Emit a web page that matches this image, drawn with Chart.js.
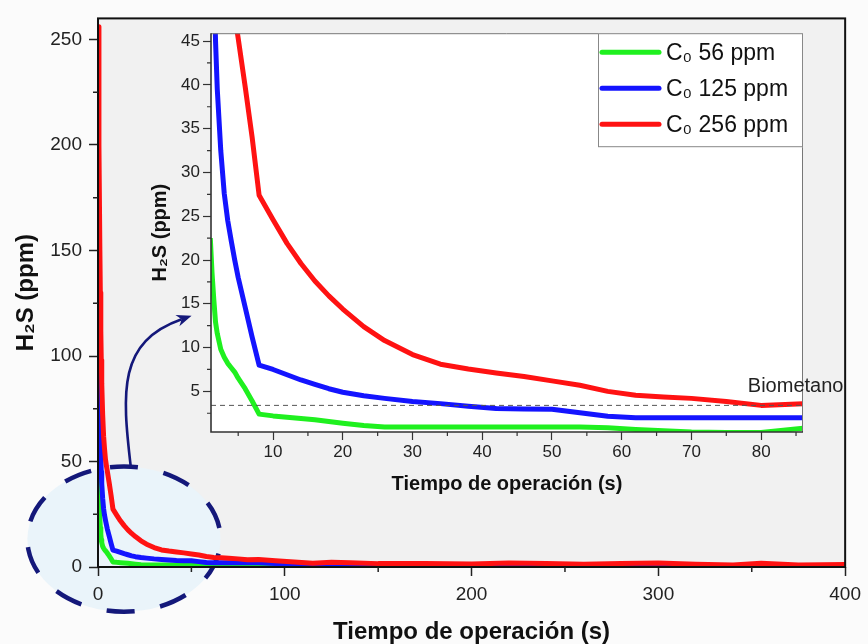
<!DOCTYPE html>
<html><head><meta charset="utf-8">
<script src="https://cdn.jsdelivr.net/npm/chart.js@4/dist/chart.umd.min.js"></script>
<style>
html,body{margin:0;padding:0;background:#fbfbfb;}
#wrap{position:relative;width:868px;height:644px;overflow:hidden;}
#main{position:absolute;left:0;top:0;}
#inset{position:absolute;left:150px;top:20px;}
</style></head><body>
<div id="wrap"><canvas id="main" width="868" height="644"></canvas><canvas id="inset" width="710" height="480"></canvas></div>
<script>
// ---- datos ----
const tiempo = [0,0.5,1,1.25,1.5,1.75,2,2.5,3,3.5,4,4.5,5,6,7,8,10,12,14,16,18,20,23,26,30,34,38,42,46,50,54,58,62,66,70,75,80,86,95,105,115,125,135,150,175,200,220,240,260,280,300,320,340,355,375,400];
const c56  = [56,36,22.5,18.5,15.5,12.9,11.6,9.8,8.9,8.2,7.7,7.2,6.5,5.3,3.9,2.4,2.2,2.05,1.9,1.75,1.55,1.35,1.1,0.93,0.93,0.93,0.93,0.93,0.93,0.93,0.93,0.85,0.65,0.5,0.36,0.3,0.3,0.8,0.5,0.3,0.3,0.3,0.3,0.3,0.3,0.3,0.3,0.3,0.3,0.3,0.3,0.3,0.3,0.3,0.3,0.3];
const c125 = [125,100,76,64,54,45,39.5,32.5,27.6,24.5,22.2,20,18,14.6,11.2,8.0,7.5,6.9,6.3,5.8,5.3,4.9,4.5,4.2,3.85,3.6,3.3,3.05,3.0,2.95,2.55,2.15,2.0,2.0,2.0,2.0,2.0,2.0,1.6,1.2,0.9,0.8,0.8,0.8,0.7,0.7,0.8,0.7,0.7,0.8,0.7,0.7,0.7,0.7,0.7,0.7];
const c256 = [256,200,150,130,112,98,87,72,62,56,51,48,45.3,39.8,34.0,27.4,24.6,21.9,19.6,17.6,15.9,14.4,12.4,10.8,9.2,8.1,7.55,7.1,6.7,6.2,5.7,5.0,4.55,4.35,4.2,3.85,3.4,3.6,3.0,2.4,1.8,2.3,2.0,1.6,1.7,1.4,1.9,1.6,1.3,1.6,1.9,1.3,1.0,1.8,1.0,1.2];
const etiquetas = ['C\u2080 56 ppm','C\u2080 125 ppm','C\u2080 256 ppm'];
const biometano = 3.4;
const ticksXPrincipal = [0,100,200,300,400];
const menoresXPrincipal = [50,150,250,350];
const ticksYPrincipal = [0,50,100,150,200,250];
const menoresYPrincipal = [25,75,125,175,225];
const ticksXInserto = [10,20,30,40,50,60,70,80];
const menoresXInserto = [5,15,25,35,45,55,65,75,85];
const ticksYInserto = [5,10,15,20,25,30,35,40,45];
const menoresYInserto = [2.5,7.5,12.5,17.5,22.5,27.5,32.5,37.5,42.5];

// ---- anotaciones (en unidades de datos) ----
const elipse = { t: 13.9, ppm: 13.2, radioT: 51.7, radioPpm: 34.4 };
const flecha = [[17.6,47.1],[12.8,83.3],[10.7,106.9],[50.1,119.1]];
const textoBiometano = { texto: 'Biometano', t: 91.8, ppm: 5.6 };

const fuente = "'Liberation Sans', Arial, Helvetica, sans-serif";
const colores = ['#1ff01f', '#1414ff', '#ff1212'];
const series = [c56, c125, c256];

function conjuntos(ancho, recorte) {
  return series.map((v, k) => ({
    label: etiquetas[k],
    data: tiempo.map((t, i) => ({x: t, y: v[i]})),
    borderColor: colores[k], backgroundColor: colores[k],
    borderWidth: ancho, pointRadius: 0, fill: false, tension: 0,
    borderJoinStyle: 'round', order: 3 - k,
    clip: recorte, enLeyenda: true
  }));
}

function ticksFijos(arr) { return s => { s.ticks = arr.map(v => ({value: v})); }; }

const menoresPlugin = {
  id: 'menores',
  afterDraw(chart, args, o) {
    const {ctx, chartArea: a, scales} = chart;
    ctx.save();
    ctx.strokeStyle = o.color; ctx.lineWidth = o.ancho;
    ctx.beginPath();
    o.x.forEach(v => { const p = scales.x.getPixelForValue(v); ctx.moveTo(p, a.bottom); ctx.lineTo(p, a.bottom + o.largo); });
    o.y.forEach(v => { const p = scales.y.getPixelForValue(v); ctx.moveTo(a.left, p); ctx.lineTo(a.left - o.largo, p); });
    ctx.stroke();
    ctx.restore();
  }
};

const principalPlugin = {
  id: 'principal',
  beforeDraw(chart) {
    const {ctx, chartArea: a, scales: {x, y}} = chart;
    ctx.save();
    ctx.fillStyle = '#f1f1f1';
    ctx.fillRect(a.left, a.top, a.width, a.height);
    const cx = x.getPixelForValue(elipse.t), cy = y.getPixelForValue(elipse.ppm);
    const rx = x.getPixelForValue(elipse.t + elipse.radioT) - cx;
    const ry = cy - y.getPixelForValue(elipse.ppm + elipse.radioPpm);
    ctx.beginPath();
    ctx.ellipse(cx, cy, rx, ry, 0, 0, Math.PI * 2);
    ctx.fillStyle = '#eaf4fa';
    ctx.fill();
    const inicio = -Math.PI / 2 - 14 / rx;
    ctx.beginPath();
    ctx.ellipse(cx, cy, rx, ry, 0, inicio, inicio + Math.PI * 2);
    ctx.setLineDash([28, 26]);
    ctx.lineWidth = 4.5;
    ctx.strokeStyle = '#14187a';
    ctx.stroke();
    ctx.restore();
  },
  afterDraw(chart) {
    const {ctx, chartArea: a, scales: {x, y}} = chart;
    ctx.save();
    ctx.strokeStyle = '#111'; ctx.lineWidth = 2;
    ctx.strokeRect(a.left, a.top, a.width, a.height);
    const p = flecha.map(q => [x.getPixelForValue(q[0]), y.getPixelForValue(q[1])]);
    ctx.strokeStyle = '#14187a'; ctx.fillStyle = '#14187a'; ctx.lineWidth = 2.6;
    const ang = Math.atan2(p[3][1] - p[2][1], p[3][0] - p[2][0]);
    const L = 15, W = 6;
    const bx = p[3][0] - L * Math.cos(ang) * 0.7, by = p[3][1] - L * Math.sin(ang) * 0.7;
    ctx.beginPath();
    ctx.moveTo(p[0][0], p[0][1]);
    ctx.bezierCurveTo(p[1][0], p[1][1], p[2][0], p[2][1], bx, by);
    ctx.stroke();
    ctx.beginPath();
    ctx.moveTo(p[3][0], p[3][1]);
    ctx.lineTo(p[3][0] - L * Math.cos(ang) + W * Math.sin(ang), p[3][1] - L * Math.sin(ang) - W * Math.cos(ang));
    ctx.lineTo(p[3][0] - L * 0.7 * Math.cos(ang), p[3][1] - L * 0.7 * Math.sin(ang));
    ctx.lineTo(p[3][0] - L * Math.cos(ang) - W * Math.sin(ang), p[3][1] - L * Math.sin(ang) + W * Math.cos(ang));
    ctx.closePath();
    ctx.fill();
    ctx.restore();
  }
};

const insertoPlugin = {
  id: 'inserto',
  beforeDraw(chart) {
    const {ctx, chartArea: a} = chart;
    ctx.save();
    ctx.fillStyle = '#ffffff';
    ctx.fillRect(a.left, a.top, a.width, a.height);
    ctx.restore();
  },
  afterDraw(chart) {
    const {ctx, chartArea: a, scales: {x, y}} = chart;
    ctx.save();
    ctx.strokeStyle = '#777'; ctx.lineWidth = 1;
    ctx.beginPath();
    ctx.moveTo(a.left, a.top + 0.5); ctx.lineTo(a.right - 0.5, a.top + 0.5); ctx.lineTo(a.right - 0.5, a.bottom);
    ctx.stroke();
    ctx.strokeStyle = '#333'; ctx.lineWidth = 1.6;
    ctx.beginPath();
    ctx.moveTo(a.left, a.top); ctx.lineTo(a.left, a.bottom); ctx.lineTo(a.right, a.bottom);
    ctx.stroke();
    // Biometano
    ctx.fillStyle = '#222';
    ctx.font = '20px ' + fuente;
    ctx.textAlign = 'right'; ctx.textBaseline = 'middle';
    ctx.fillText(textoBiometano.texto, x.getPixelForValue(textoBiometano.t), y.getPixelForValue(textoBiometano.ppm));
    // leyenda
    const w = 205, h = 114;
    const x0 = a.right - w, y0 = a.top;
    ctx.fillStyle = '#fff'; ctx.fillRect(x0, y0, w, h);
    ctx.strokeStyle = '#888'; ctx.lineWidth = 1;
    ctx.strokeRect(x0 + 0.5, y0 + 0.5, w - 1, h - 1);
    const items = chart.data.datasets.filter(d => d.enLeyenda);
    ctx.font = '23px ' + fuente;
    ctx.textAlign = 'left';
    items.forEach((d, i) => {
      const yy = y0 + 19 + i * 36;
      ctx.strokeStyle = d.borderColor; ctx.lineWidth = 5; ctx.lineCap = 'round';
      ctx.beginPath(); ctx.moveTo(x0 + 4, yy); ctx.lineTo(x0 + 61, yy); ctx.stroke();
      ctx.fillStyle = '#111';
      ctx.fillText(d.label, x0 + 68, yy + 1);
    });
    ctx.restore();
  }
};

// ---- grafico principal ----
new Chart(document.getElementById('main'), {
  type: 'line',
  data: { datasets: conjuntos(5, undefined) },
  options: {
    responsive: false, animation: false, devicePixelRatio: 1,
    layout: { padding: { top: 15, right: 20, left: 0, bottom: 0 } },
    plugins: { legend: { display: false }, tooltip: { enabled: false },
      menores: { x: menoresXPrincipal, y: menoresYPrincipal, largo: 5, ancho: 1.5, color: '#222' } },
    scales: {
      x: { type: 'linear', min: 0, max: 400, afterBuildTicks: ticksFijos(ticksXPrincipal),
        afterFit: s => { s.height = 77; },
        border: { display: false },
        grid: { drawOnChartArea: false, drawTicks: true, tickLength: 9, tickWidth: 1.5, tickColor: '#222' },
        ticks: { padding: 7, maxRotation: 0, color: '#222', font: { family: fuente, size: 19 } },
        title: { display: true, text: 'Tiempo de operación (s)', color: '#111', padding: { top: 0, bottom: 0 },
          font: { family: fuente, size: 24, weight: 'bold', lineHeight: 1 } } },
      y: { type: 'linear', min: 0, max: 260, afterBuildTicks: ticksFijos(ticksYPrincipal),
        afterFit: s => { s.width = 98; },
        border: { display: false },
        grid: { drawOnChartArea: false, drawTicks: true, tickLength: 9, tickWidth: 1.5, tickColor: '#222' },
        ticks: { padding: 7, color: '#222', font: { family: fuente, size: 19 } },
        title: { display: true, text: 'H\u2082S (ppm)', color: '#111', padding: { top: 14, bottom: 0 },
          font: { family: fuente, size: 24, weight: 'bold', lineHeight: 1 } } }
    }
  },
  plugins: [principalPlugin, menoresPlugin]
});

// ---- grafico insertado ----
const dsInserto = conjuntos(5, 0);
dsInserto.push({ label: 'Biometano', data: [{x: 1.1, y: biometano}, {x: 86, y: biometano}],
  borderColor: '#555', borderWidth: 1, borderDash: [5, 4], pointRadius: 0, fill: false, order: 0, clip: 0, enLeyenda: false });

new Chart(document.getElementById('inset'), {
  type: 'line',
  data: { datasets: dsInserto },
  options: {
    responsive: false, animation: false, devicePixelRatio: 1,
    layout: { padding: { top: 12, right: 57, left: 0, bottom: 0 } },
    plugins: { legend: { display: false }, tooltip: { enabled: false },
      menores: { x: menoresXInserto, y: menoresYInserto, largo: 4, ancho: 1.2, color: '#333' } },
    scales: {
      x: { type: 'linear', min: 1.1, max: 86, afterBuildTicks: ticksFijos(ticksXInserto),
        afterFit: s => { s.height = 68; },
        border: { display: false },
        grid: { drawOnChartArea: false, drawTicks: true, tickLength: 8, tickWidth: 1.2, tickColor: '#333' },
        ticks: { padding: 2, maxRotation: 0, color: '#222', font: { family: fuente, size: 17 } },
        title: { display: true, text: 'Tiempo de operación (s)', color: '#111', padding: { top: 0, bottom: 6 },
          font: { family: fuente, size: 20, weight: 'bold', lineHeight: 1 } } },
      y: { type: 'linear', min: 0.36, max: 45.9, afterBuildTicks: ticksFijos(ticksYInserto),
        afterFit: s => { s.width = 61; },
        border: { display: false },
        grid: { drawOnChartArea: false, drawTicks: true, tickLength: 8, tickWidth: 1.2, tickColor: '#333' },
        ticks: { padding: 3, color: '#222', font: { family: fuente, size: 17 } },
        title: { display: true, text: 'H\u2082S (ppm)', color: '#111', padding: { top: 0, bottom: 0 },
          font: { family: fuente, size: 20, weight: 'bold', lineHeight: 1 } } }
    }
  },
  plugins: [insertoPlugin, menoresPlugin]
});
</script>
</body></html>
